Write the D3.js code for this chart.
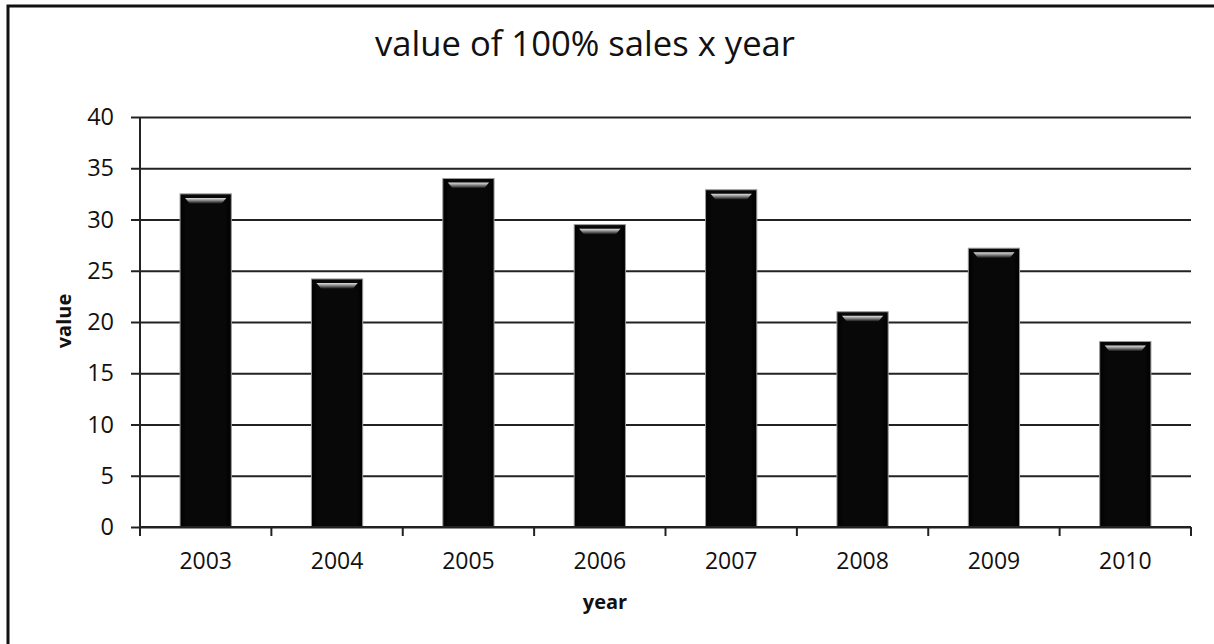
<!DOCTYPE html>
<html>
<head>
<meta charset="utf-8">
<script src="https://cdn.jsdelivr.net/npm/d3@7"></script>
<style>
  html, body { margin: 0; padding: 0; background: #fff; }
  svg { display: block; }
  text { font-family: "Open Sans", Lato, sans-serif; fill: #111; }
</style>
</head>
<body>
<svg id="chart" width="1214" height="644"></svg>
<script>
// Sales value per year
const years = ["2003", "2004", "2005", "2006", "2007", "2008", "2009", "2010"];
const values = [32.5, 24.2, 34.0, 29.5, 32.9, 21.0, 27.2, 18.1];
const yTicks = [0, 5, 10, 15, 20, 25, 30, 35, 40];

const svg = d3.select("#chart");
const plot = { left: 140, right: 1191, top: 117, bottom: 527 };
const FONT = "'Open Sans', Lato, sans-serif";

// Outer frame (right and bottom edges fall outside the canvas)
svg.append("rect")
  .attr("x", 8).attr("y", 6)
  .attr("width", 1220).attr("height", 660)
  .attr("fill", "#fff").attr("stroke", "#111").attr("stroke-width", 3);

const x = d3.scaleBand().domain(years)
  .range([plot.left, plot.right]).paddingInner(0.61).paddingOuter(0.305);
const y = d3.scaleLinear().domain([0, 40]).range([plot.bottom, plot.top]);

// Horizontal gridlines
const grid = svg.append("g")
  .attr("transform", `translate(${plot.left},0)`)
  .call(d3.axisLeft(y).tickValues(yTicks).tickSize(-(plot.right - plot.left)).tickFormat(""));
grid.select(".domain").remove();
grid.selectAll(".tick line").attr("stroke", "#222").attr("stroke-width", 2);

// Value axis with short outer ticks
const yAxis = svg.append("g")
  .attr("transform", `translate(${plot.left},0)`)
  .call(d3.axisLeft(y).tickValues(yTicks).tickSize(9).tickPadding(17));
yAxis.select(".domain").attr("stroke", "#222").attr("stroke-width", 2)
  .attr("d", `M0,${plot.top}V${plot.bottom}`);
yAxis.selectAll(".tick line").attr("stroke", "#222").attr("stroke-width", 2);
yAxis.selectAll(".tick text")
  .style("font-size", "23.5px").style("font-family", FONT).attr("fill", "#111");

// Bar shading: darker side edges and a glossy strip under the top edge
const defs = svg.append("defs");
const hl = defs.append("linearGradient").attr("id", "hl").attr("x1", 0).attr("y1", 0).attr("x2", 0).attr("y2", 1);
hl.append("stop").attr("offset", "0%").attr("stop-color", "#e0e0e0");
hl.append("stop").attr("offset", "40%").attr("stop-color", "#909090");
hl.append("stop").attr("offset", "100%").attr("stop-color", "#050505");
const side = defs.append("linearGradient").attr("id", "side").attr("x1", 0).attr("y1", 0).attr("x2", 1).attr("y2", 0);
side.append("stop").attr("offset", "0%").attr("stop-color", "#000");
side.append("stop").attr("offset", "12%").attr("stop-color", "#080808");
side.append("stop").attr("offset", "88%").attr("stop-color", "#080808");
side.append("stop").attr("offset", "100%").attr("stop-color", "#000");

const bars = svg.append("g").selectAll("g")
  .data(years.map((d, i) => ({ year: d, value: values[i] })))
  .join("g");

bars.append("rect")
  .attr("x", d => x(d.year))
  .attr("y", d => y(d.value))
  .attr("width", x.bandwidth())
  .attr("height", d => y(0) - y(d.value))
  .attr("fill", "url(#side)")
  .attr("stroke", "#9a9a9a").attr("stroke-width", 1);

bars.append("path")
  .attr("d", d => {
    const x0 = x(d.year), w = x.bandwidth(), t = y(d.value);
    return `M${x0 + 5},${t + 4}L${x0 + w - 5},${t + 4}L${x0 + w - 10},${t + 10}L${x0 + 10},${t + 10}Z`;
  })
  .attr("fill", "url(#hl)");

// Category axis with ticks on the band boundaries
const xAxis = svg.append("g").attr("transform", `translate(0,${plot.bottom})`)
  .call(d3.axisBottom(x).tickSize(0).tickPadding(26));
xAxis.select(".domain").attr("stroke", "#222").attr("stroke-width", 2)
  .attr("d", `M${plot.left},0H${plot.right}`);
xAxis.selectAll(".tick text")
  .style("font-size", "23px").style("font-family", FONT).attr("fill", "#111");
xAxis.append("g").selectAll("line").data(d3.range(years.length + 1))
  .join("line")
  .attr("x1", i => plot.left + i * x.step())
  .attr("x2", i => plot.left + i * x.step())
  .attr("y1", 0).attr("y2", 9)
  .attr("stroke", "#222").attr("stroke-width", 2);

// Chart title, fitted to its width
const title = svg.append("text")
  .attr("x", 585).attr("y", 56)
  .attr("text-anchor", "middle")
  .style("font-size", "30px")
  .text("value of 100% sales x year");
const tw = title.node().getComputedTextLength();
title.style("font-size", (30 * 420 / tw).toFixed(2) + "px");

// Axis titles
svg.append("text")
  .attr("transform", "translate(71,321) rotate(-90)")
  .attr("text-anchor", "middle")
  .style("font-size", "20px").style("font-weight", "bold")
  .text("value");

svg.append("text")
  .attr("x", 605).attr("y", 609)
  .attr("text-anchor", "middle")
  .style("font-size", "20px").style("font-weight", "bold")
  .text("year");
</script>
</body>
</html>
